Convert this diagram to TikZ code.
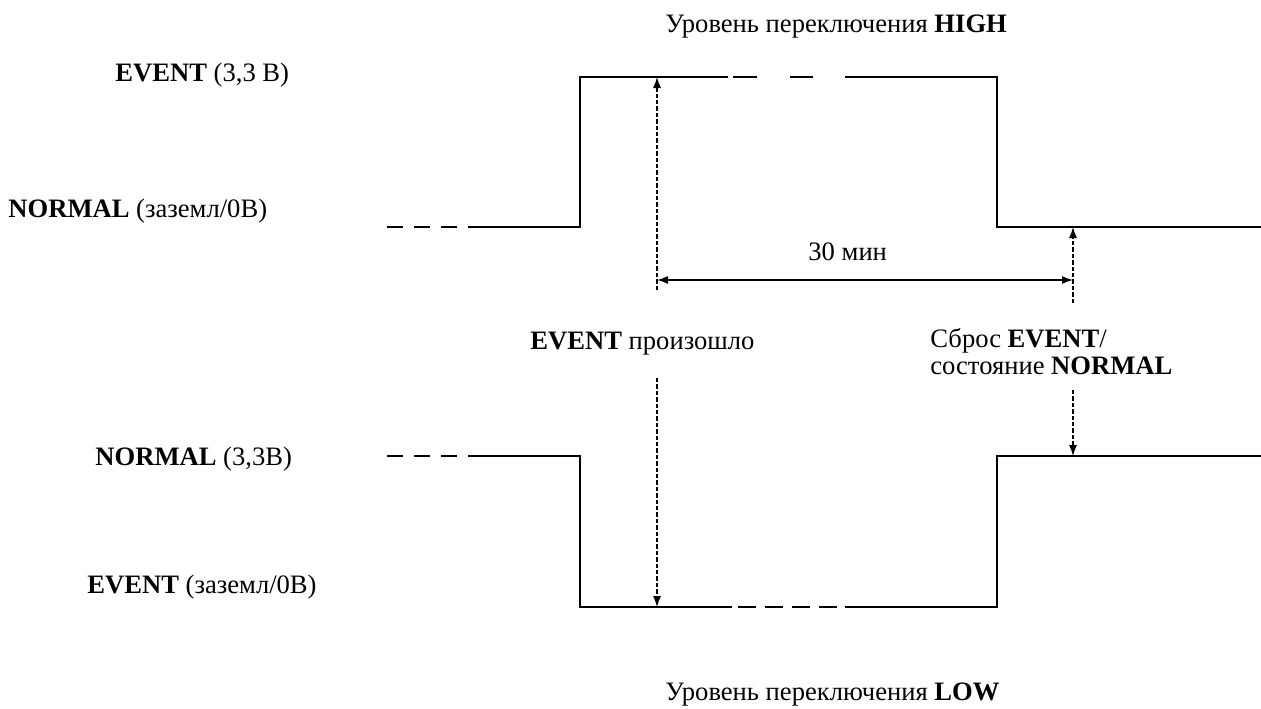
\documentclass[tikz,border=0pt]{standalone}
\usepackage{fontspec}
\setmainfont{Liberation Serif}
\usepackage{tikz}
\usetikzlibrary{arrows.meta}
\usetikzlibrary{positioning}

\begin{document}
\begin{tikzpicture}[x=0.5pt, y=-0.5pt,
  every node/.style={inner sep=0pt, anchor=base west, font=\fontsize{13.3pt}{13pt}\selectfont},
  sig/.style={line width=1pt},
  gap/.style={line width=1pt, dash pattern=on 8pt off 5.5pt},
  guide/.style={line width=0.6pt, dash pattern=on 2.2pt off 1pt, -{Latex[length=5.5pt,width=4pt]}}]
  \useasboundingbox (0,0) rectangle (1261,708);

  % upper trace
  \coordinate (uStart) at (387,227);
  \coordinate (uSolid) at (468,227);
  \coordinate (uRise) at (580,227);
  \coordinate (uEv) at (657,77);
  \coordinate (uFall) at (997,227);
  \coordinate (uRes) at (1073,227);
  \draw [gap] (uStart) -- (uSolid);
  \draw [sig] (uSolid) -- (uRise) -- (580,77) -- (728,77);
  \draw [sig] (733,77) -- (757,77) (790,77) -- (813,77);
  \draw [sig] (845,77) -- (997,77) -- (uFall) -- (1261,227);

  % lower trace
  \coordinate (lStart) at (387,456);
  \coordinate (lSolid) at (468,456);
  \coordinate (lEv) at (657,607);
  \coordinate (lRes) at (1073,456);
  \draw [gap] (lStart) -- (lSolid);
  \draw [sig] (lSolid) -- (580,456) -- (580,607) -- (732,607);
  \draw [line width=1pt, dash pattern=on 9pt off 4.5pt] (738,607) -- (840,607);
  \draw [sig] (845,607) -- (997,607) -- (997,456) -- (1261,456);

  % guides
  \coordinate (evTop) at (657,290);
  \coordinate (evBot) at (657,378);
  \coordinate (resTop) at (1073,303);
  \coordinate (resBot) at (1073,390);
  \coordinate (durL) at (657,280);
  \coordinate (durR) at (1073,280);
  \draw [guide] (evTop) -- (uEv);
  \draw [guide] (evBot) -- (lEv);
  \draw [guide] (resTop) -- (uRes);
  \draw [guide] (resBot) -- (lRes);
  \draw [{Latex[length=5.5pt,width=4pt]}-{Latex[length=5.5pt,width=4pt]}, line width=0.7pt] (durL) -- (durR);

  % labels
  \node (iHigh) at (665,32) {Уровень переключения \textbf{HIGH}};
  \node (iEvHi) at (115,81) {\textbf{EVENT} (3,3 В)};
  \node (iNormGnd) at (8,217) {\textbf{NORMAL} (заземл/0В)};
  \node (iDur) at (808,260) {30 мин};
  \node (iEvOcc) at (530,349) {\textbf{EVENT} произошло};
  \node (iReset) at (930,347) {Сброс \textbf{EVENT}/};
  \node (iState) at (930,374) {состояние \textbf{NORMAL}};
  \node (iNormHi) at (95,465) {\textbf{NORMAL} (3,3В)};
  \node (iEvGnd) at (87,593) {\textbf{EVENT} (заземл/0В)};
  \node (iLow) at (665,700) {Уровень переключения \textbf{LOW}};
\end{tikzpicture}
\end{document}
